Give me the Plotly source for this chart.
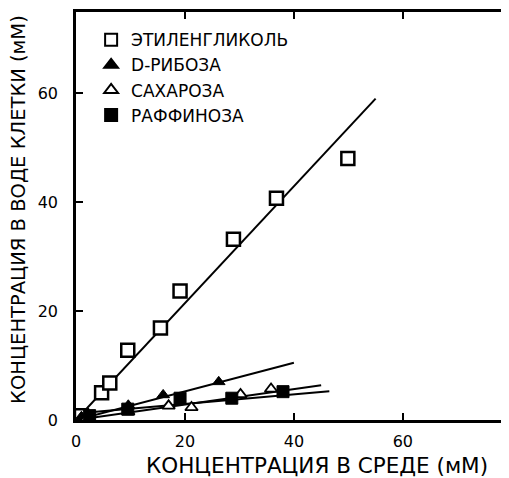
import plotly.graph_objects as go

# Data
eg_x = [1.0, 4.7, 6.2, 9.5, 15.5, 19.1, 28.9, 36.8, 49.9]
eg_y = [0.8, 5.0, 6.8, 12.8, 16.9, 23.7, 33.2, 40.7, 48.0]
eg_fit_x = [0, 55]
eg_fit_y = [0, 59]

rib_x = [1.0, 9.6, 16.0, 26.2]
rib_y = [0.6, 2.7, 4.6, 7.0]
rib_fit_x = [0, 40]
rib_fit_y = [0, 10.5]

suc_x = [2.0, 9.6, 17.0, 21.2, 30.2, 35.8]
suc_y = [0.4, 1.5, 2.6, 2.3, 4.7, 5.7]
suc_fit_x = [0, 45]
suc_fit_y = [0, 6.4]

raf_x = [2.5, 9.5, 19.1, 28.6, 38.0]
raf_y = [0.8, 2.0, 4.0, 4.0, 5.2]
raf_fit_x = [0, 46.5]
raf_fit_y = [1.2, 5.3]

names = ["ЭТИЛЕНГЛИКОЛЬ", "D-РИБОЗА", "САХАРОЗА", "РАФФИНОЗА"]
tick_vals = [0, 20, 40, 60]
x_title = "КОНЦЕНТРАЦИЯ В СРЕДЕ (мМ)"
y_title = "КОНЦЕНТРАЦИЯ В ВОДЕ КЛЕТКИ (мМ)"

FONT = "DejaVu Sans, Liberation Sans, Arial, sans-serif"

fig = go.Figure()
line_style = dict(color="black", width=2)
for fx, fy in [(eg_fit_x, eg_fit_y), (rib_fit_x, rib_fit_y),
               (suc_fit_x, suc_fit_y), (raf_fit_x, raf_fit_y)]:
    fig.add_trace(go.Scatter(x=fx, y=fy, mode="lines", line=line_style,
                             showlegend=False, hoverinfo="skip"))

marker_defs = [
    (eg_x, eg_y, dict(symbol="square", size=13, color="white", line=dict(color="black", width=2.5))),
    (rib_x, rib_y, dict(symbol="triangle-up", size=11, color="black", line=dict(color="black", width=1))),
    (suc_x, suc_y, dict(symbol="triangle-up", size=11, color="white", line=dict(color="black", width=1.8))),
    (raf_x, raf_y, dict(symbol="square", size=12, color="black", line=dict(color="black", width=1))),
]
for i, (mx, my, mk) in enumerate(marker_defs):
    fig.add_trace(go.Scatter(x=mx, y=my, mode="markers", marker=mk, name=names[i],
                             legendgroup=str(i)))

axis_common = dict(
    showline=True, linecolor="black", linewidth=2.5, mirror="ticks",
    ticks="inside", ticklen=7, tickwidth=2, tickcolor="black",
    tickvals=tick_vals, showgrid=False, zeroline=False, automargin=False,
    tickfont=dict(family=FONT, size=16, color="black"),
)

fig.update_layout(
    width=501, height=470,
    margin=dict(l=68, r=1, t=4, b=58),
    paper_bgcolor="white", plot_bgcolor="white",
    font=dict(family=FONT, color="black"),
    xaxis=dict(range=[0, 79.3], ticklabelstandoff=5, **axis_common),
    yaxis=dict(range=[0, 74.9], ticklabelstandoff=12, **axis_common),
    legend=dict(x=0.035, y=0.975, xanchor="left", yanchor="top",
                font=dict(size=17), bgcolor="rgba(0,0,0,0)",
                tracegroupgap=0, itemsizing="constant"),
    showlegend=True,
    annotations=[
        dict(text=x_title, xref="paper", yref="paper", x=0.558, y=0,
             xanchor="center", yanchor="middle", yshift=-45.5, showarrow=False,
             font=dict(size=21.5, family=FONT)),
        dict(text=y_title, xref="paper", yref="paper", x=0, y=0.515,
             xanchor="center", yanchor="middle", xshift=-57, textangle=-90,
             showarrow=False, font=dict(size=19.5, family=FONT)),
    ],
)

fig.write_html("out.html")
